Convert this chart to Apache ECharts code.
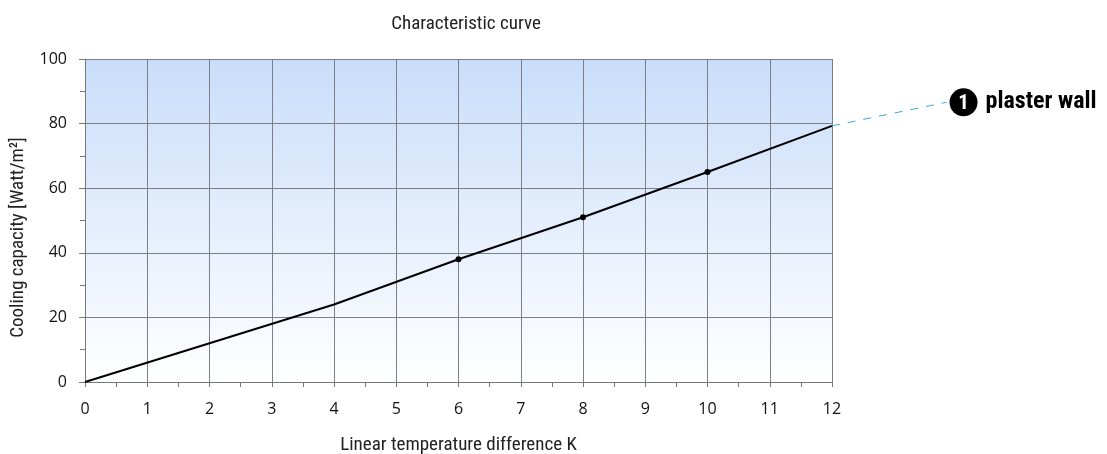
<!DOCTYPE html>
<html><head><meta charset="utf-8">
<script src="https://cdn.jsdelivr.net/npm/echarts@6/dist/echarts.min.js"></script>
<style>html,body{margin:0;padding:0;background:#fff}#c{width:1107px;height:454px}</style>
</head><body><div id="c"></div>
<script>
const curveX = [0, 4, 6, 8, 10, 12];
const curveY = [0, 24, 38, 51, 65, 79.3];
const markerX = [6, 8, 10];
const leaderX = [12, 13.84];
const leaderY = [79.3, 86.6];
const seriesLabel = 'plaster wall';
const seriesNumber = '1';
const titleText = 'Characteristic curve';
const xName = 'Linear temperature difference K';
const yName = 'Cooling capacity [Watt/m²]';

const narrow = "'Roboto Condensed','Liberation Sans Narrow','DejaVu Sans Condensed',sans-serif";
const tickFont = "'Open Sans','Noto Sans',sans-serif";

const curveData = curveX.map((x, i) => ({
  value: [x, curveY[i]],
  symbolSize: markerX.includes(x) ? 6 : 0
}));

const chart = echarts.init(document.getElementById('c'));
chart.setOption({
  animation: false,
  title: {
    text: titleText, left: 461, top: 10, textAlign: 'center',
    textStyle: { fontFamily: narrow, fontSize: 19, fontWeight: 'normal', color: '#222' }
  },
  grid: {
    left: 85, right: 275, top: 59, bottom: 72, show: true, borderWidth: 0,
    containLabel: false, outerBoundsMode: 'none',
    backgroundColor: {
      type: 'linear', x: 0, y: 0, x2: 0, y2: 1,
      colorStops: [{ offset: 0, color: '#c9ddfa' }, { offset: 1, color: '#ffffff' }]
    }
  },
  xAxis: {
    type: 'value', min: 0, max: 12, interval: 1,
    name: xName, nameLocation: 'middle', nameGap: 54,
    nameTextStyle: { fontFamily: narrow, fontSize: 19, color: '#222' },
    axisLine: { show: true, lineStyle: { color: '#777', width: 1 } },
    axisTick: { show: true, length: 5, lineStyle: { color: '#777' } },
    minorTick: { show: true, splitNumber: 2, length: 5, lineStyle: { color: '#777' } },
    axisLabel: { fontFamily: tickFont, fontSize: 16, color: '#111', margin: 19 },
    splitLine: { show: true, lineStyle: { color: '#7a7f88', width: 1 } }
  },
  yAxis: {
    type: 'value', min: 0, max: 100, interval: 20,
    name: yName, nameLocation: 'middle', nameGap: 57, nameRotate: 90,
    nameTextStyle: { fontFamily: narrow, fontSize: 19, color: '#222', padding: [0, 34, 0, 0] },
    axisLine: { show: true, lineStyle: { color: '#777', width: 1 } },
    axisTick: { show: true, length: 6, lineStyle: { color: '#777' } },
    minorTick: { show: true, splitNumber: 2, length: 5, lineStyle: { color: '#777' } },
    axisLabel: { fontFamily: tickFont, fontSize: 16, color: '#111', margin: 18 },
    splitLine: { show: true, lineStyle: { color: '#7a7f88', width: 1 } }
  },
  series: [
    {
      type: 'line', data: curveData, symbol: 'circle', showAllSymbol: true,
      lineStyle: { color: '#000', width: 2 }, itemStyle: { color: '#000' }, z: 5
    }
  ]
});

const p1 = chart.convertToPixel({ gridIndex: 0 }, [leaderX[0], leaderY[0]]);
const p2 = chart.convertToPixel({ gridIndex: 0 }, [leaderX[1], leaderY[1]]);
const r = 14;
const cx = p2[0] + 3 + r;
chart.setOption({
  graphic: [
    { type: 'line', shape: { x1: p1[0], y1: p1[1], x2: p2[0], y2: p2[1] },
      style: { stroke: '#3aa7e0', lineWidth: 1, lineDash: [8, 8] } },
    { type: 'circle', shape: { cx: cx, cy: p2[1], r: r }, style: { fill: '#000' } },
    { type: 'text', x: cx, y: p2[1] + 1,
      style: { text: seriesNumber, fill: '#fff', font: "bold 21px 'Roboto Condensed','Roboto',sans-serif",
               textAlign: 'center', textVerticalAlign: 'middle' } },
    { type: 'text', x: cx + r + 8, y: p2[1],
      style: { text: seriesLabel, fill: '#000', font: "bold 24px 'Roboto Condensed','Liberation Sans Narrow',sans-serif",
               textAlign: 'left', textVerticalAlign: 'middle' } }
  ]
});
</script></body></html>
